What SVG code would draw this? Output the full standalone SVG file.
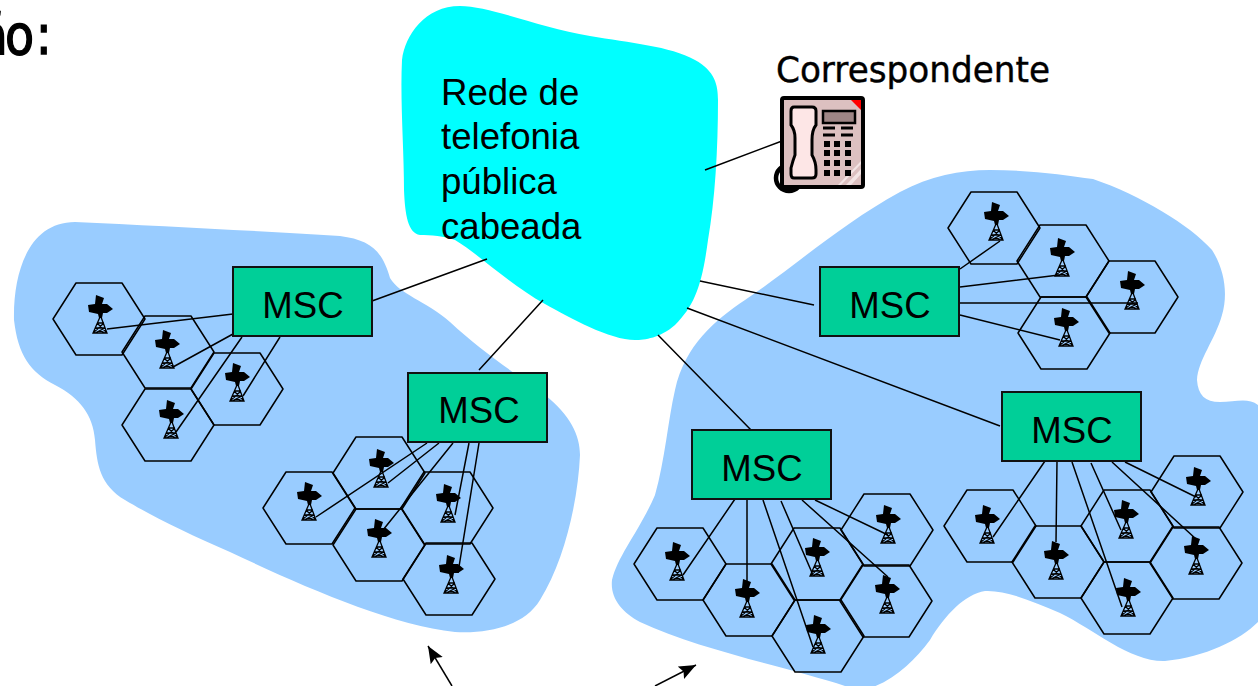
<svg xmlns="http://www.w3.org/2000/svg" xmlns:xlink="http://www.w3.org/1999/xlink" width="1258" height="686" viewBox="0 0 1258 686">
<style>
.hex{fill:none;stroke:#000;stroke-width:1.5;stroke-linejoin:round}
.ln{fill:none;stroke:#000;stroke-width:1.5}
.msc rect{fill:#00cf98;stroke:#111;stroke-width:2}
.sans{font-family:"Liberation Sans",Arial,sans-serif;font-size:36.6px;fill:#000}
.msc text{text-anchor:middle}
.hand{font-family:"DejaVu Sans",sans-serif;fill:#000}
.area{fill:#99ccff}
</style>
<defs>
<polygon id="h" class="hex" points="-46,0 -23,-36 23,-36 46,0 23,36 -23,36"/>
<g id="t">
<polygon points="-4,-38 4,-35 2,-29 7,-29 13,-24 7,-20 3,-20 2,-15 -1,-15 -2,-19 -11,-21 -12,-28 -5,-29" fill="#000"/>
<path d="M0,-16 L-7,0 L7,0 L1,-16 M-3,-10 H4 M-5,-5 H5 M-7,0 L4,-10 M7,0 L-3,-10 M-5,-5 L5,0 M5,-5 L-5,0" fill="none" stroke="#000" stroke-width="1.3"/>
</g>
<marker id="arr" markerUnits="userSpaceOnUse" markerWidth="20" markerHeight="16" refX="17" refY="7" orient="auto"><path d="M0,0 L17,7 L0,14 L3,7 Z" fill="#000"/></marker>
</defs>
<g id="backgrounds">
<path id="area-left" class="area" d="M75,222 C160,226 260,231 340,236 C370,240 382,250 390,278 C400,295 425,300 450,322 C480,350 510,370 545,395 C570,415 580,435 580,455 C578,500 565,560 540,600 C525,625 490,634 455,632 C390,625 300,585 230,552 C190,535 150,515 125,500 C100,485 97,465 95,440 C93,415 80,398 55,385 C30,372 18,355 14,320 C13,270 30,222 75,222 Z"/>
<path id="area-right" class="area" d="M612,580 C618,555 640,530 655,495 C665,460 668,420 675,390 C685,345 715,320 745,300 C790,270 840,225 900,192 C930,176 960,170 990,170 C1030,170 1065,175 1093,179 C1140,195 1190,225 1212,250 C1225,270 1228,295 1222,315 C1215,340 1198,360 1197,380 C1198,395 1205,402 1220,402 C1235,402 1248,397 1258,405 L1258,622 C1240,640 1205,657 1165,661 C1130,662 1095,630 1060,613 C1030,600 1005,590 985,591 C965,594 945,615 930,640 C915,660 895,680 870,688 L845,686 C790,668 700,650 640,622 C622,612 610,598 612,580 Z"/>
</g>
<g id="cloud"><path d="M460,6 C490,6 540,28 590,36 C630,43 670,46 695,60 C715,71 718,85 718,100 C718,150 715,200 708,240 C702,285 695,305 675,325 C660,338 645,340 635,340 C610,340 570,318 545,304 C510,285 480,255 455,240 C445,236 430,235 420,235 C408,233 405,215 404,190 C404,150 400,100 402,60 C405,35 425,6 460,6 Z" fill="#00ffff"/>
<text class="sans" x="441" y="105">Rede de</text>
<text class="sans" x="441" y="149">telefonia</text>
<text class="sans" x="441" y="194">pública</text>
<text class="sans" x="441" y="239">cabeada</text>
</g>
<g id="connectors">
<path class="ln" d="M372,301L487,259M479,370L543,300M700,281L814,305M687,308L1000,426M658,335L751,430M705,170L782,141"/>
<path class="ln" d="M107,329L233,314M173,367L233,334M176,432L242,337M243,396L280,337"/>
<path class="ln" d="M316,517L427,443M388,483L439,443M383,530L453,443M455,515L469,443M458,573L479,443"/>
<path class="ln" d="M683,575L735,499M747,583L747,499M813,647L763,500M813,575L781,501M888,577L802,500M888,535L815,500"/>
<path class="ln" d="M993,537L1045,461M1056,542L1057,461M1122,607L1072,462M1121,530L1091,463M1196,539L1112,462M1196,497L1125,462"/>
<path class="ln" d="M960,269L1000,241M960,287L1059,275M960,303L1138,303M960,315L1060,340"/>
<path class="ln" d="M452,686L428,646" marker-end="url(#arr)"/>
<path class="ln" d="M655,686L696,665" marker-end="url(#arr)"/>
</g>
<g id="cell-a1"><use href="#h" x="99" y="319"/><use href="#t" x="100" y="333"/></g>
<g id="cell-a2"><use href="#h" x="168" y="352"/><use href="#t" x="167" y="368"/></g>
<g id="cell-a3"><use href="#h" x="168" y="425"/><use href="#t" x="171" y="438"/></g>
<g id="cell-a4"><use href="#h" x="237" y="389"/><use href="#t" x="237" y="401"/></g>
<g id="cell-b1"><use href="#h" x="309" y="508"/><use href="#t" x="309" y="520"/></g>
<g id="cell-b2"><use href="#h" x="379" y="473"/><use href="#t" x="381" y="487"/></g>
<g id="cell-b3"><use href="#h" x="379" y="545"/><use href="#t" x="379" y="557"/></g>
<g id="cell-b4"><use href="#h" x="447" y="508"/><use href="#t" x="448" y="522"/></g>
<g id="cell-b5"><use href="#h" x="449" y="579"/><use href="#t" x="451" y="593"/></g>
<g id="cell-c1"><use href="#h" x="680" y="564"/><use href="#t" x="677" y="580"/></g>
<g id="cell-c2"><use href="#h" x="749" y="600"/><use href="#t" x="747" y="617"/></g>
<g id="cell-c3"><use href="#h" x="817" y="564"/><use href="#t" x="817" y="576"/></g>
<g id="cell-c4"><use href="#h" x="887" y="530"/><use href="#t" x="888" y="543"/></g>
<g id="cell-c5"><use href="#h" x="886" y="601"/><use href="#t" x="887" y="613"/></g>
<g id="cell-c6"><use href="#h" x="818" y="636"/><use href="#t" x="818" y="653"/></g>
<g id="cell-d1"><use href="#h" x="990" y="526"/><use href="#t" x="987" y="543"/></g>
<g id="cell-d2"><use href="#h" x="1058" y="562"/><use href="#t" x="1056" y="579"/></g>
<g id="cell-d3"><use href="#h" x="1127" y="526"/><use href="#t" x="1126" y="538"/></g>
<g id="cell-d4"><use href="#h" x="1197" y="492"/><use href="#t" x="1198" y="505"/></g>
<g id="cell-d5"><use href="#h" x="1196" y="563"/><use href="#t" x="1196" y="574"/></g>
<g id="cell-d6"><use href="#h" x="1127" y="598"/><use href="#t" x="1128" y="616"/></g>
<g id="cell-e1"><use href="#h" x="994" y="228"/><use href="#t" x="996" y="240"/></g>
<g id="cell-e2"><use href="#h" x="1063" y="261"/><use href="#t" x="1062" y="276"/></g>
<g id="cell-e3"><use href="#h" x="1132" y="297"/><use href="#t" x="1132" y="309"/></g>
<g id="cell-e4"><use href="#h" x="1064" y="333"/><use href="#t" x="1066" y="346"/></g>
<g id="msc-1" class="msc"><rect x="233" y="267" width="139" height="69"/><text class="sans" x="303" y="318">MSC</text></g>
<g id="msc-2" class="msc"><rect x="408" y="373" width="139" height="69"/><text class="sans" x="479" y="423">MSC</text></g>
<g id="msc-3" class="msc"><rect x="820" y="267" width="139" height="69"/><text class="sans" x="890" y="318">MSC</text></g>
<g id="msc-4" class="msc"><rect x="692" y="430" width="139" height="69"/><text class="sans" x="762" y="481">MSC</text></g>
<g id="msc-5" class="msc"><rect x="1002" y="392" width="139" height="69"/><text class="sans" x="1072" y="443">MSC</text></g>
<g id="phone">
<circle cx="789" cy="178" r="13" fill="none" stroke="#000" stroke-width="4.5"/>
<rect x="782" y="98" width="81" height="89" rx="2" fill="#dcc0c0" stroke="#000" stroke-width="4"/>
<polygon points="851,100 861,100 861,110" fill="#f00"/>
<path d="M846,185 L861,169 V174 L851,185 Z M838,185 L861,161 V164 L841,185 Z" fill="#f3e4e4"/>
<path d="M794,107 H812 Q816,107 816,111 V125 Q812,130 812,140 V155 Q816,162 816,170 V174 Q816,178 812,178 H794 Q791,178 791,174 V168 Q793,160 795,155 V138 Q795,130 791,125 V111 Q791,107 794,107 Z" fill="#fde6e6" stroke="#000" stroke-width="3"/>
<rect x="823" y="111" width="32" height="12" fill="#9e8585" stroke="#000" stroke-width="2.5"/>
<path d="M823,128H835M841,128H853M823,135H835M841,135H853" stroke="#000" stroke-width="3" fill="none"/>
<g fill="#000"><rect x="824" y="141" width="6" height="6"/><rect x="834" y="141" width="6" height="6"/><rect x="845" y="141" width="6" height="6"/><rect x="824" y="150" width="6" height="6"/><rect x="834" y="150" width="6" height="6"/><rect x="845" y="150" width="6" height="6"/><rect x="824" y="160" width="6" height="6"/><rect x="834" y="160" width="6" height="6"/><rect x="845" y="160" width="6" height="6"/><rect x="824" y="170" width="6" height="6"/><rect x="834" y="170" width="6" height="6"/><rect x="845" y="170" width="6" height="6"/></g>
</g>
<text id="label-correspondente" class="hand" x="776" y="82" font-size="35" textLength="274" lengthAdjust="spacingAndGlyphs" stroke="#000" stroke-width="0.4">Correspondente</text>
<text id="label-title" class="hand" transform="scale(0.85,1)" x="-25 5.9 42" y="54" font-size="56" stroke="#000" stroke-width="1.5">ão:</text>
</svg>
